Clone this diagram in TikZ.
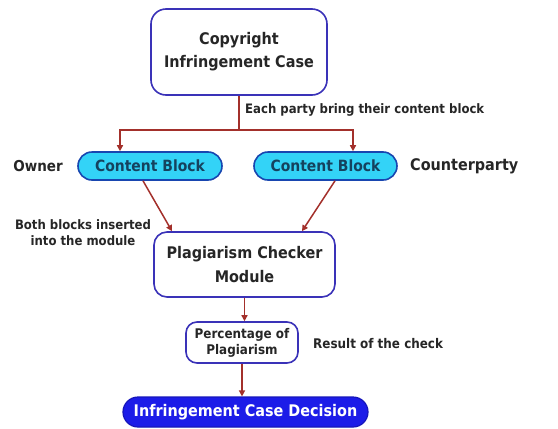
\documentclass[tikz,border=0pt]{standalone}
\usepackage{fontspec}
\setmainfont{DejaVu Sans Condensed}
\usetikzlibrary{arrows.meta,calc}
\definecolor{arrred}{HTML}{A3302B}
\definecolor{boxblue}{HTML}{3A32B8}
\definecolor{cyanfill}{HTML}{33D3F7}
\definecolor{cyanedge}{HTML}{1846B0}
\definecolor{cyantext}{HTML}{15425E}
\definecolor{decfill}{HTML}{1C1CE8}
\definecolor{txt}{HTML}{262626}
\begin{document}
\begin{tikzpicture}[x=1pt,y=-1pt,
  box/.style={draw=boxblue,line width=1.6pt,fill=white,rounded corners=13pt,inner sep=0pt,
     align=center,text=txt,font=\bfseries\fontsize{16}{23}\selectfont},
  cblock/.style={draw=cyanedge,line width=1.6pt,fill=cyanfill,rounded corners=14pt,inner sep=0pt,
     minimum height=28pt,text=cyantext,font=\bfseries\fontsize{15.5}{18}\selectfont},
  lbl/.style={text=txt,font=\bfseries\fontsize{13}{16}\selectfont,inner sep=0pt,align=center},
  arr/.style={draw=arrred,line width=1.5pt,-{Triangle[length=6pt,width=6pt]}},
  ln/.style={draw=arrred,line width=1.5pt}]
\useasboundingbox (0,0) rectangle (558,429);
\node[box,minimum width=176pt,minimum height=86pt,rounded corners=15pt] (top) at (239,52) {Copyright\\Infringement Case};
\node[cblock,minimum width=144pt] (cbL) at (150,166) {Content Block};
\node[cblock,minimum width=143pt] (cbR) at (325.5,166) {Content Block};
\node[box,minimum width=181pt,minimum height=65pt,font=\bfseries\fontsize{16}{24}\selectfont] (mod) at (244.5,264.5) {Plagiarism Checker\\Module};
\node[box,minimum width=112pt,minimum height=41pt,rounded corners=11pt,font=\bfseries\fontsize{13.3}{16}\selectfont] (pct) at (242,342.5) {Percentage of\\Plagiarism};
\node[draw=decfill!80!black,line width=1.2pt,fill=decfill,rounded corners=15pt,minimum width=245pt,minimum height=30pt,inner sep=0pt,text=white,font=\bfseries\fontsize{16}{18}\selectfont] (dec) at (245.5,412) {Infringement Case Decision};

\node[lbl,anchor=west] (l1) at (245,110) {Each party bring their content block};
\node[lbl,font=\bfseries\fontsize{15}{18}\selectfont] (own) at (38,166) {Owner};
\node[lbl,anchor=west,font=\bfseries\fontsize{16}{18}\selectfont] (cp) at (410,166) {Counterparty};
\node[lbl,font=\bfseries\fontsize{13}{16}\selectfont] (l2) at (83,233) {Both blocks inserted\\into the module};
\node[lbl,anchor=west,font=\bfseries\fontsize{13.3}{16}\selectfont] (l3) at (313,344) {Result of the check};

\draw[ln] (top.south) -- ++(0,34) coordinate (j);
\draw[arr] (j) -| ([xshift=-30pt]cbL.north);
\draw[arr] (j) -| ([xshift=27.5pt]cbR.north);
\draw[arr] ([xshift=-7pt]cbL.south) -- ([xshift=-72.5pt]mod.north);
\draw[arr] ([xshift=9.5pt]cbR.south) -- ([xshift=57.5pt]mod.north);
\draw[arr] (mod.south) -- (mod.south |- pct.north);
\draw[arr] (pct.south) -- (pct.south |- dec.north);
\end{tikzpicture}
\end{document}
